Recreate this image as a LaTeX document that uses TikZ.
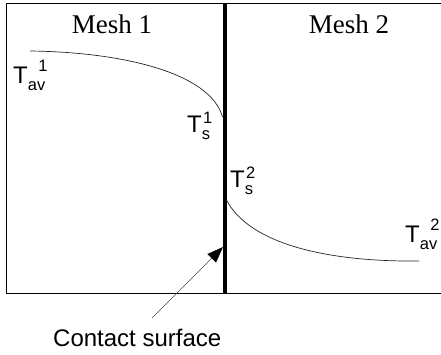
\documentclass[tikz,border=0pt]{standalone}
\usepackage{fontspec}
\setmainfont{Liberation Sans}
\newfontfamily\meshfont{Liberation Serif}
\usetikzlibrary{arrows.meta}

\newcommand{\subfnt}{\fontsize{16.5}{16.5}\selectfont}
\newcommand{\Tlab}[3][9pt]{T\raisebox{-7pt}{\subfnt #2}\kern-7pt\raisebox{#1}{\subfnt #3}}

\tikzset{
  meshlbl/.style={font=\meshfont\fontsize{27}{27}\selectfont, anchor=base, inner sep=0pt},
  tlbl/.style={font=\fontsize{24}{24}\selectfont, anchor=base west, inner sep=0pt},
  profile/.style={line width=0.7pt, black!85},
}

\begin{document}
\begin{tikzpicture}[x=1pt,y=-1pt]
\useasboundingbox (0,0) rectangle (441,354);
% Frame (open at the right)
\draw[line width=0.8pt] (441,3) -- (6,3) -- (6,293) -- (441,293);
% Contact surface
\draw[line width=4pt] (225,3) -- (225,293);
% Mesh titles
\node[meshlbl] (mesh1) at (112,33) {Mesh 1};
\node[meshlbl] (mesh2) at (349,33) {Mesh 2};
% Temperature profile in mesh 1
\coordinate (a1) at (30,51);
\coordinate (s1) at (222.5,117);
\draw[profile] (a1) .. controls (120,52) and (210,72) .. (s1);
% Temperature profile in mesh 2
\coordinate (s2) at (226.5,200);
\coordinate (a2) at (419,261);
\draw[profile] (s2) .. controls (250,245) and (330,262) .. (a2);
% Labels
\node[tlbl] (tav1) at (13,83) {\Tlab[12pt]{av}{1}};
\node[tlbl] (ts1) at (187,132) {\Tlab{s}{1}};
\node[tlbl] (ts2) at (230,187) {\Tlab{s}{2}};
\node[tlbl] (tav2) at (405,242) {\Tlab[12pt]{av}{2}};
% Pointer
\node[font=\fontsize{24}{24}\selectfont, anchor=base west, inner sep=0pt] (contact) at (53,346) {Contact surface};
\coordinate (tail) at (152,318);
\coordinate (tip) at (223,247);
\draw[black!70, line width=0.6pt, -{Triangle[length=16pt,width=12pt,color=black]}] (tail) -- (tip);
\end{tikzpicture}
\end{document}
